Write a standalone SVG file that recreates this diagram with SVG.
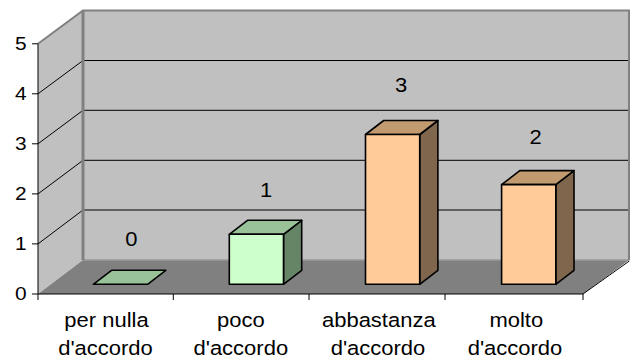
<svg xmlns="http://www.w3.org/2000/svg" width="636" height="361" viewBox="0 0 636 361">
<style>
  text { font-family: "Liberation Sans", Arial, sans-serif; font-size: 19.3px; fill: #000; }
  .ylab { font-size: 18.3px; text-anchor: end; }
  .mid { text-anchor: middle; }
  .grid { stroke: #000; stroke-width: 1; fill: none; }
  .wall { fill: #C0C0C0; }
  .edge { stroke: #808080; fill: none; }
  .bar { stroke: #000; stroke-width: 1.6; stroke-linejoin: round; }
  .gF { fill: #CCFFCC; } .gT { fill: #99C299; } .gS { fill: #668566; }
  .pF { fill: #FFCC99; } .pT { fill: #C19A6F; } .pS { fill: #80664D; }
  .tick { stroke: #000; stroke-width: 1; }
</style>
<rect width="636" height="361" fill="#FFFFFF"/>
<g id="chart-area">
  <!-- back wall -->
  <rect class="wall" x="83" y="10.5" width="546" height="249.5"/>
  <!-- left wall -->
  <polygon class="wall" points="38,43.8 83,10.5 83,260 38,294"/>
  <!-- floor -->
  <polygon fill="#808080" points="38,294 583,294 629,260 83,260"/>
  <line x1="83" y1="260" x2="629" y2="260" stroke="#9A9A9A" stroke-width="1.5"/>
  <line x1="583" y1="294" x2="629.3" y2="261" stroke="#000" stroke-width="1"/>
  <!-- gridlines -->
  <g class="grid">
    <polyline points="38,93.8 83,60.5 629,60.5"/>
    <polyline points="38,143.8 83,110.3 629,110.3"/>
    <polyline points="38,193.9 83,160.3 629,160.3"/>
    <polyline points="38,243.9 83,210 629,210"/>
  </g>
  <!-- wall borders -->
  <polyline class="edge" stroke-width="2" points="38,43.8 83,10.5 629,10.5 629,260"/>
  <line class="edge" stroke-width="3" x1="83" y1="10.5" x2="83" y2="260"/>
</g>
<g id="axes">
  <line class="tick" x1="38" y1="43.8" x2="38" y2="294"/>
  <line class="tick" x1="38" y1="294" x2="583" y2="294"/>
  <g class="tick">
    <line x1="32" y1="43.8" x2="38" y2="43.8"/>
    <line x1="32" y1="93.8" x2="38" y2="93.8"/>
    <line x1="32" y1="143.8" x2="38" y2="143.8"/>
    <line x1="32" y1="193.9" x2="38" y2="193.9"/>
    <line x1="32" y1="243.9" x2="38" y2="243.9"/>
    <line x1="32" y1="294" x2="38" y2="294"/>
    <line x1="38" y1="294" x2="38" y2="300"/>
    <line x1="173.3" y1="294" x2="173.3" y2="300"/>
    <line x1="309" y1="294" x2="309" y2="300"/>
    <line x1="445" y1="294" x2="445" y2="300"/>
    <line x1="583" y1="294" x2="583" y2="300"/>
  </g>
  <text class="ylab" transform="translate(26.5,50.2) scale(1.14,1)">5</text>
  <text class="ylab" transform="translate(26.5,100.2) scale(1.14,1)">4</text>
  <text class="ylab" transform="translate(26.5,150.2) scale(1.14,1)">3</text>
  <text class="ylab" transform="translate(26.5,200.3) scale(1.14,1)">2</text>
  <text class="ylab" transform="translate(26.5,250.3) scale(1.14,1)">1</text>
  <text class="ylab" transform="translate(26.5,300.3) scale(1.14,1)">0</text>
</g>
<g id="bar-per-nulla">
  <polygon class="bar gT" points="93.3,284.3 147.6,284.3 165.8,270.3 111.5,270.3"/>
  <text class="mid" transform="translate(131.3,246) scale(1.14,1)">0</text>
</g>
<g id="bar-poco">
  <polygon class="bar gS" points="283.5,284.3 301.7,270.3 301.7,220.3 283.5,234.3"/>
  <polygon class="bar gT" points="229.3,234.3 283.5,234.3 301.7,220.3 247.5,220.3"/>
  <rect class="bar gF" x="229.3" y="234.3" width="54.2" height="50"/>
  <text class="mid" transform="translate(266,196.7) scale(1.14,1)">1</text>
</g>
<g id="bar-abbastanza">
  <polygon class="bar pS" points="419.7,284.3 437.9,270.3 437.9,120.5 419.7,134.5"/>
  <polygon class="bar pT" points="365.5,134.5 419.7,134.5 437.9,120.5 383.7,120.5"/>
  <rect class="bar pF" x="365.5" y="134.5" width="54.2" height="149.8"/>
  <text class="mid" transform="translate(401.2,92.3) scale(1.14,1)">3</text>
</g>
<g id="bar-molto">
  <polygon class="bar pS" points="555.8,284.3 574,270.3 574,170.6 555.8,184.6"/>
  <polygon class="bar pT" points="501.6,184.6 555.8,184.6 574,170.6 519.8,170.6"/>
  <rect class="bar pF" x="501.6" y="184.6" width="54.2" height="99.7"/>
  <text class="mid" transform="translate(535.5,143.5) scale(1.14,1)">2</text>
</g>
<g id="category-labels">
  <text class="mid" transform="translate(106.5,326.5) scale(1.14,1)">per nulla</text>
  <text class="mid" transform="translate(105.5,355) scale(1.14,1)">d'accordo</text>
  <text class="mid" transform="translate(240.8,326.5) scale(1.14,1)">poco</text>
  <text class="mid" transform="translate(240.8,355) scale(1.14,1)">d'accordo</text>
  <text class="mid" transform="translate(378.8,326.5) scale(1.14,1)">abbastanza</text>
  <text class="mid" transform="translate(378,355) scale(1.14,1)">d'accordo</text>
  <text class="mid" transform="translate(516.3,326.5) scale(1.14,1)">molto</text>
  <text class="mid" transform="translate(515,355) scale(1.14,1)">d'accordo</text>
</g>
</svg>
